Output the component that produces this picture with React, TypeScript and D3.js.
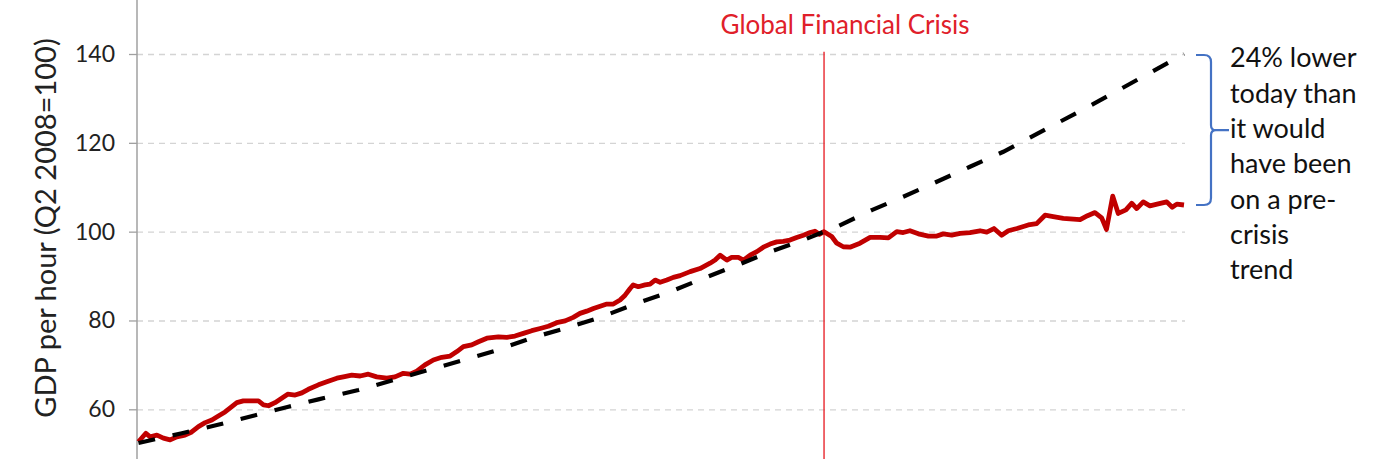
import { useEffect, useRef } from 'react';
import * as d3 from 'd3';

// Output per hour, quarterly-ish readings (fractional year -> index, Q2 2008 = 100)
const redYears = [
  1979.68, 1979.99, 1980.17, 1980.45, 1980.72, 1981.0, 1981.28, 1981.62, 1981.9, 1982.18,
  1982.46, 1982.74, 1983.01, 1983.29, 1983.57, 1983.78, 1984.05, 1984.33, 1984.68, 1984.89,
  1985.1, 1985.37, 1985.65, 1985.9, 1986.21, 1986.49, 1986.76, 1987.18, 1987.53, 1987.95,
  1988.22, 1988.57, 1988.92, 1989.26, 1989.61, 1990.03, 1990.37, 1990.72, 1991.0, 1991.28,
  1991.62, 1991.97, 1992.32, 1992.67, 1992.95, 1993.22, 1993.57, 1993.85, 1994.2, 1994.68,
  1995.03, 1995.37, 1995.72, 1996.07, 1996.42, 1996.76, 1997.11, 1997.46, 1997.8, 1998.08,
  1998.36, 1998.64, 1998.92, 1999.2, 1999.47, 1999.75, 1999.96, 2000.17, 2000.3, 2000.51,
  2000.79, 2001.0, 2001.21, 2001.42, 2001.7, 2001.97, 2002.25, 2002.67, 2003.08, 2003.5,
  2003.71, 2003.92, 2004.2, 2004.4, 2004.68, 2004.89, 2005.17, 2005.45, 2005.72, 2006.0,
  2006.28, 2006.55, 2006.83, 2007.11, 2007.39, 2007.67, 2007.87, 2008.05, 2008.25, 2008.57,
  2008.78, 2009.05, 2009.33, 2009.75, 2010.17, 2010.58, 2010.93, 2011.28, 2011.55, 2011.83,
  2012.18, 2012.6, 2012.95, 2013.22, 2013.57, 2013.92, 2014.33, 2014.75, 2015.03, 2015.33,
  2015.65, 2015.93, 2016.29, 2016.76, 2017.11, 2017.46, 2017.8, 2018.22, 2018.64, 2018.92,
  2019.23, 2019.54, 2019.82, 2020.02, 2020.28, 2020.51, 2020.83, 2021.07, 2021.28, 2021.55,
  2021.83, 2022.13, 2022.53, 2022.76, 2022.95, 2023.25,
];
const redValues = [
  52.7, 54.6, 53.8, 54.2, 53.5, 53.1, 53.8, 54.2, 54.9, 56.1,
  57.0, 57.6, 58.5, 59.4, 60.6, 61.5, 61.9, 61.9, 61.9, 61.0,
  60.8, 61.5, 62.5, 63.4, 63.2, 63.7, 64.5, 65.5, 66.2, 67.0,
  67.3, 67.7, 67.5, 67.9, 67.3, 67.0, 67.3, 68.1, 67.9, 68.6,
  70.0, 71.1, 71.7, 72.0, 73.0, 74.1, 74.5, 75.2, 76.0, 76.3,
  76.2, 76.5, 77.1, 77.7, 78.2, 78.7, 79.5, 79.9, 80.7, 81.6,
  82.1, 82.7, 83.2, 83.7, 83.7, 84.6, 85.7, 87.2, 88.0, 87.6,
  88.0, 88.2, 89.1, 88.6, 89.1, 89.7, 90.1, 91.0, 91.7, 92.9,
  93.6, 94.7, 93.6, 94.2, 94.2, 93.6, 94.7, 95.5, 96.5, 97.2,
  97.7, 97.8, 98.1, 98.7, 99.2, 99.8, 100.1, 99.4, 100.0, 98.9,
  97.4, 96.6, 96.5, 97.4, 98.7, 98.7, 98.6, 100.0, 99.8, 100.2,
  99.5, 99.0, 99.0, 99.5, 99.2, 99.6, 99.8, 100.2, 99.9, 100.7,
  99.2, 100.2, 100.7, 101.5, 101.8, 103.7, 103.4, 103.0, 102.8, 102.7,
  103.6, 104.3, 103.1, 100.5, 108.0, 104.1, 104.9, 106.4, 105.2, 106.7,
  105.8, 106.2, 106.7, 105.5, 106.2, 106.0,
];

// Pre-crisis trend
const trendYears = [
  1979.68, 1981.49, 1982.95, 1984.47, 1985.93, 1987.18, 1988.85, 1990.3, 1991.76, 1993.22,
  1994.54, 1996.14, 1997.6, 1998.92, 2000.45, 2001.83, 2003.22, 2004.61, 2006.0, 2007.39,
  2008.25, 2008.78, 2010.24, 2011.55, 2012.95, 2014.33, 2015.72, 2019.46, 2023.25,
];
const trendValues = [
  52.4, 54.6, 56.45, 58.55, 60.57, 62.24, 64.33, 66.58, 68.84, 71.09,
  73.18, 76.2, 78.45, 80.7, 83.85, 86.47, 89.48, 92.4, 95.47, 98.1,
  100.0, 101.1, 104.86, 107.86, 111.24, 114.61, 117.99, 128.7, 140.0,
];

const yTicks = [60, 80, 100, 120, 140];
const crisisYear = 2008.25;
const crisisLabel = 'Global Financial Crisis';
const yAxisLabel = 'GDP per hour (Q2 2008=100)';
const noteLines = ['24% lower', 'today than', 'it would', 'have been', 'on a pre-', 'crisis', 'trend'];

export default function App() {
  const svgRef = useRef<SVGSVGElement>(null);

  useEffect(() => {
    if (!svgRef.current) return;
    const width = 1378;
    const height = 459;
    const font = 'Lato, "Open Sans", sans-serif';

    const svg = d3.select(svgRef.current).attr('width', width).attr('height', height);
    svg.selectAll('*').remove();

    const x = d3.scaleLinear().domain([1979.62, 2023.25]).range([137, 1184]);
    const y = d3.scaleLinear().domain([60, 140]).range([409.3, 54]);
    const plotRight = 1185;

    // gridlines
    svg
      .append('g')
      .attr('transform', `translate(${x.range()[0]},0)`)
      .call(
        d3
          .axisLeft(y)
          .tickValues(yTicks)
          .tickSize(-(plotRight - x.range()[0]))
          .tickFormat(() => '')
      )
      .call((g) => g.select('.domain').remove())
      .selectAll('line')
      .attr('stroke', '#d4d4d4')
      .attr('stroke-width', 1.3)
      .attr('stroke-dasharray', '6,5');

    // y axis
    const yAxis = svg
      .append('g')
      .attr('transform', `translate(${x.range()[0]},0)`)
      .call(d3.axisLeft(y).tickValues(yTicks).tickSize(8).tickPadding(14).tickSizeOuter(0));
    yAxis.select('.domain').remove();
    yAxis.selectAll('line').attr('stroke', '#a0a0a0').attr('stroke-width', 1.3);
    yAxis
      .selectAll('text')
      .attr('fill', '#222')
      .style('font-family', font)
      .style('font-size', '23px');
    svg
      .append('line')
      .attr('x1', x.range()[0])
      .attr('x2', x.range()[0])
      .attr('y1', 0)
      .attr('y2', height)
      .attr('stroke', '#a0a0a0')
      .attr('stroke-width', 1.5);

    svg
      .append('text')
      .attr('transform', 'translate(56,228) rotate(-90)')
      .attr('text-anchor', 'middle')
      .attr('fill', '#222')
      .style('font-family', font)
      .style('font-size', '29px')
      .text(yAxisLabel);

    // crisis marker
    const cx = x(crisisYear);
    svg
      .append('line')
      .attr('x1', cx)
      .attr('x2', cx)
      .attr('y1', y(140.5))
      .attr('y2', height)
      .attr('stroke', '#e8262e')
      .attr('stroke-width', 1.4);
    svg
      .append('text')
      .attr('x', cx + 21)
      .attr('y', 34)
      .attr('text-anchor', 'middle')
      .attr('fill', '#e0202a')
      .style('font-family', font)
      .style('font-size', '26px')
      .text(crisisLabel);

    // actual series
    const redPts = redYears.map((yr, i) => [yr, redValues[i]] as [number, number]);
    svg
      .append('path')
      .datum(redPts)
      .attr('fill', 'none')
      .attr('stroke', '#c00000')
      .attr('stroke-width', 4.8)
      .attr('stroke-linejoin', 'round')
      .attr('d', d3.line<[number, number]>().x((d) => x(d[0])).y((d) => y(d[1])));

    // trend
    const trendPts = trendYears.map((yr, i) => [yr, trendValues[i]] as [number, number]);
    svg
      .append('path')
      .datum(trendPts)
      .attr('fill', 'none')
      .attr('stroke', '#000')
      .attr('stroke-width', 4.2)
      .attr('stroke-dasharray', '17,18')
      .attr('d', d3.line<[number, number]>().x((d) => x(d[0])).y((d) => y(d[1])));

    // brace between trend end and actual end
    const top = y(trendValues[trendValues.length - 1]) + 1;
    const bot = y(redValues[redValues.length - 1]);
    const mid = (top + bot) / 2 + 0.2;
    const bx = 1211;
    svg
      .append('path')
      .attr('fill', 'none')
      .attr('stroke', '#4472c4')
      .attr('stroke-width', 2.2)
      .attr(
        'd',
        `M1196,${top} H1204 Q${bx},${top} ${bx},${top + 7} V${mid - 5} Q${bx},${mid} ${bx + 5},${mid} H1229` +
          ` M${bx + 5},${mid} Q${bx},${mid} ${bx},${mid + 5} V${bot - 7} Q${bx},${bot} 1204,${bot} H1196`
      );

    svg
      .append('g')
      .selectAll('text')
      .data(noteLines)
      .join('text')
      .attr('x', 1230)
      .attr('y', (_, i) => 67.3 + i * 35.3)
      .attr('fill', '#111')
      .style('font-family', font)
      .style('font-size', '27px')
      .text((d) => d);
  }, []);

  return <svg ref={svgRef} style={{ position: 'absolute', left: 0, top: 0, display: 'block', background: '#fff' }} />;
}
